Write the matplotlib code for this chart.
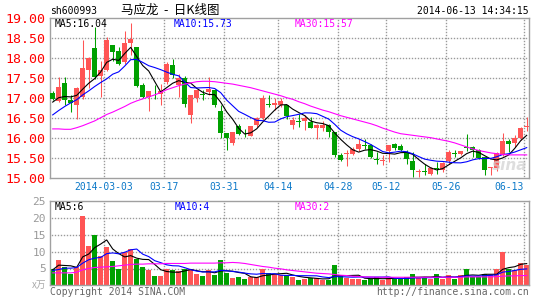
import numpy as np
import pandas as pd
import matplotlib
matplotlib.use('Agg')
import matplotlib.pyplot as plt

# ---- data (sh600993, daily K line) ----
opens = [17.13, 16.92, 17.37, 16.93, 16.82, 17.02, 17.68, 18.25, 17.53, 17.70,
         18.33, 18.18, 17.89, 18.37, 18.27, 17.32, 17.02, 17.08, 17.10, 17.39,
         17.82, 17.31, 17.49, 16.57, 16.99, 17.10, 17.14, 17.20, 16.68, 16.12,
         15.86, 16.29, 16.13, 16.05, 16.31, 16.50, 16.84, 16.83, 16.83, 16.81,
         16.31, 16.42, 16.42, 16.39, 16.23, 16.25, 16.31, 16.14, 15.56, 15.58,
         15.60, 15.72, 15.82, 15.81, 15.46, 15.42, 15.66, 15.85, 15.80, 15.64,
         15.42, 15.15, 15.17, 15.10, 15.23, 15.20, 15.42, 15.61, 15.59, 15.76,
         15.77, 15.68, 15.52, 15.23, 15.23, 15.56, 15.93, 15.87, 16.00, 16.27]
closes = [16.97, 17.27, 16.93, 16.87, 17.25, 17.75, 18.00, 17.52, 17.70, 18.45,
          18.14, 17.85, 18.38, 18.47, 17.30, 17.02, 17.17, 17.06, 17.17, 17.84,
          17.57, 17.49, 16.85, 17.07, 17.19, 17.08, 17.22, 16.82, 16.13, 15.98,
          16.15, 16.09, 16.11, 16.28, 16.48, 17.00, 16.82, 16.87, 16.92, 16.53,
          16.43, 16.40, 16.48, 16.25, 16.31, 16.33, 16.14, 15.56, 15.45, 15.62,
          15.72, 15.85, 15.80, 15.52, 15.44, 15.44, 15.82, 15.73, 15.70, 15.47,
          15.20, 15.17, 15.15, 15.24, 15.21, 15.37, 15.64, 15.59, 15.67, 15.74,
          15.68, 15.48, 15.18, 15.26, 15.62, 15.93, 15.85, 16.00, 16.23, 16.29]
highs = [17.17, 17.53, 17.52, 17.08, 17.28, 18.45, 18.03, 18.77, 17.93, 18.52,
         18.33, 18.28, 18.68, 18.87, 18.27, 17.37, 17.17, 17.32, 17.35, 17.89,
         17.96, 17.59, 17.55, 17.07, 17.20, 17.20, 17.52, 17.22, 16.81, 16.12,
         16.15, 16.35, 16.22, 16.30, 16.53, 17.06, 17.08, 17.00, 17.00, 16.83,
         16.52, 16.60, 16.56, 16.53, 16.35, 16.43, 16.35, 16.14, 15.62, 15.70,
         15.76, 15.97, 15.97, 15.85, 15.64, 15.56, 15.82, 15.87, 15.85, 15.70,
         15.64, 15.22, 15.35, 15.27, 15.40, 15.40, 15.70, 15.70, 15.68, 16.10,
         15.80, 15.72, 15.52, 15.28, 15.65, 16.12, 15.97, 16.06, 16.27, 16.53]
lows = [16.95, 16.90, 16.83, 16.64, 16.48, 16.98, 17.25, 17.48, 17.03, 17.68,
        17.93, 17.83, 17.85, 18.08, 17.27, 17.00, 16.68, 16.98, 16.83, 17.35,
        17.50, 17.02, 16.77, 16.37, 16.90, 16.95, 17.08, 16.78, 15.99, 15.70,
        15.82, 16.06, 16.02, 16.04, 16.28, 16.43, 16.78, 16.70, 16.77, 16.47,
        16.22, 16.27, 16.20, 16.25, 15.98, 16.18, 16.02, 15.53, 15.42, 15.30,
        15.58, 15.67, 15.73, 15.50, 15.35, 15.31, 15.40, 15.70, 15.68, 15.35,
        15.03, 15.02, 15.06, 15.08, 15.10, 15.14, 15.35, 15.52, 15.57, 15.68,
        15.53, 15.48, 15.06, 15.06, 15.18, 15.55, 15.64, 15.77, 15.95, 16.17]
volumes = [5.0, 7.5, 5.4, 3.4, 5.4, 20.6, 11.7, 15.0, 8.7, 11.5,
           7.2, 4.8, 10.0, 10.7, 7.7, 5.4, 4.5, 2.8, 2.8, 5.0,
           4.5, 4.3, 4.8, 4.8, 3.4, 2.8, 4.5, 3.1, 7.5, 3.6,
           2.3, 2.5, 1.9, 2.4, 2.4, 5.0, 3.6, 3.3, 3.0, 3.0,
           2.5, 1.5, 1.9, 2.2, 2.2, 1.7, 1.7, 6.1, 2.7, 2.2,
           2.0, 2.0, 1.7, 2.0, 2.4, 1.7, 2.2, 2.0, 2.0, 2.4,
           3.4, 2.2, 2.4, 1.9, 3.4, 1.9, 3.0, 1.9, 3.0, 5.0,
           2.5, 2.5, 3.4, 3.0, 5.0, 9.9, 5.0, 4.7, 6.6, 6.1]

# moving averages before the window starts
ma5_head = [16.89, 17.00, 17.03, 17.02]
ma10_head = [16.57, 16.68, 16.78, 16.87, 16.95, 17.07, 17.17, 17.28, 17.38]
vol_ma5_head = [4.6, 6.0, 5.9, 5.8]
vol_ma10_head = [4.4, 4.7, 5.1, 5.1, 5.3, 6.6, 7.6, 8.1, 8.3]

ma30 = [16.22, 16.22, 16.21, 16.21, 16.25, 16.30, 16.36, 16.42, 16.50, 16.58,
        16.64, 16.71, 16.78, 16.86, 16.92, 16.97, 17.02, 17.07, 17.13, 17.20,
        17.25, 17.30, 17.34, 17.37, 17.40, 17.41, 17.41, 17.40, 17.38, 17.36,
        17.34, 17.31, 17.28, 17.25, 17.21, 17.17, 17.13, 17.09, 17.05, 17.00,
        16.96, 16.90, 16.85, 16.79, 16.74, 16.69, 16.65, 16.60, 16.55, 16.51,
        16.47, 16.43, 16.39, 16.35, 16.30, 16.24, 16.19, 16.14, 16.10, 16.08,
        16.06, 16.04, 16.02, 16.00, 15.97, 15.94, 15.91, 15.87, 15.82, 15.77,
        15.72, 15.68, 15.65, 15.62, 15.60, 15.58, 15.57, 15.57, 15.57, 15.57]
vol_ma30 = [3.7, 3.7, 3.7, 3.7, 3.9, 4.6, 5.0, 5.3, 5.4, 5.5,
            5.6, 5.8, 6.0, 6.2, 6.3, 6.3, 6.4, 6.4, 6.4, 6.5,
            6.5, 6.5, 6.5, 6.6, 6.6, 6.6, 6.6, 6.6, 6.7, 6.7,
            6.8, 6.7, 6.5, 6.2, 5.9, 5.6, 5.4, 5.1, 4.9, 4.6,
            4.4, 4.2, 4.0, 3.8, 3.6, 3.5, 3.4, 3.2, 3.0, 2.9,
            2.7, 2.6, 2.5, 2.5, 2.4, 2.4, 2.4, 2.4, 2.4, 2.4,
            2.4, 2.4, 2.4, 2.4, 2.4, 2.4, 2.4, 2.4, 2.4, 2.5,
            2.5, 2.5, 2.5, 2.5, 2.6, 2.7, 2.8, 2.8, 2.9, 2.9]

# date labels sit on the slot boundary before these candle indexes
date_idx = [9, 19, 29, 38, 48, 56, 66, 79]
date_labels = ['2014-03-03', '03-17', '03-31', '04-14', '04-28', '05-12', '05-26', '06-13']
price_ticks = [15.0, 15.5, 16.0, 16.5, 17.0, 17.5, 18.0, 18.5, 19.0]
vol_ticks = [5, 10, 15, 20, 25]

RED = '#ff5555'
GREEN = '#00a000'
MONO = 'DejaVu Sans Mono'
CJK = ['Noto Sans CJK SC', 'DejaVu Sans']


def with_head(values, head, n):
    s = pd.Series(values).rolling(n).mean()
    s.iloc[:len(head)] = head
    return s.values


def dot_grid(a, xs, ys):
    # Sina style dotted guides: one grey pixel every 3 pixels, in axes fractions
    bb = a.get_window_extent()
    step_x = 3.0 / bb.width
    step_y = 3.0 / bb.height
    tx = a.get_xaxis_transform()
    ty = a.get_yaxis_transform()
    style = dict(ls='none', marker='s', ms=1.0, mew=0, mfc='#9a9a9a', zorder=1)
    along_y = np.arange(step_y / 2, 1, step_y)
    along_x = np.arange(step_x / 2, 1, step_x)
    for gx in xs:
        a.plot(np.full(along_y.size, gx), along_y, transform=tx, **style)
    for gy in ys:
        a.plot(along_x, np.full(along_x.size, gy), transform=ty, **style)


o = np.array(opens)
c = np.array(closes)
x = np.arange(len(o))
cols = np.where(c >= o, RED, GREEN)

ma5 = with_head(closes, ma5_head, 5)
ma10 = with_head(closes, ma10_head, 10)
vma5 = with_head(volumes, vol_ma5_head, 5)
vma10 = with_head(volumes, vol_ma10_head, 10)

W, H = 545, 300
fig = plt.figure(figsize=(W / 100, H / 100), dpi=100)
fig.patch.set_facecolor('white')


def box(l, t, r, b):
    return [l / W, 1 - b / H, (r - l) / W, (b - t) / H]


ax = fig.add_axes(box(50, 17.7, 528.5, 177.7))
axv = fig.add_axes(box(50, 201.3, 528.5, 285.3))

grid_x = [i - 0.5 for i in date_idx]

for a in (ax, axv):
    a.set_xlim(-0.45, 79.3)
    for sp in a.spines.values():
        sp.set_color('#a0a0a0')
        sp.set_linewidth(1.0)

# ---- price panel ----
ax.set_ylim(15, 19)
dot_grid(ax, grid_x, price_ticks[1:-1])

ax.vlines(x, lows, highs, colors=cols, lw=0.75, zorder=2)
body_lo = np.minimum(o, c)
body_h = np.maximum(np.abs(c - o), 0.02)
ax.bar(x, body_h, bottom=body_lo, width=0.78, color=cols, linewidth=0, zorder=3)

ax.plot(x, ma5, color='black', lw=0.8, zorder=4)
ax.plot(x, ma10, color='#0000ff', lw=0.8, zorder=4)
ax.plot(x, ma30, color='#ff00ff', lw=0.8, zorder=4)

ax.set_yticks(price_ticks)
ax.set_yticklabels(['%.2f' % v for v in price_ticks], family=MONO, fontsize=9.5, color='#ff0000')
ax.set_xticks(grid_x)
ax.set_xticklabels(date_labels, family=MONO, fontsize=7, color='#0a78c8')
ax.get_xticklabels()[-1].set_ha('right')
ax.tick_params(length=0, pad=3)

fig.text(55 / W, 1 - 23.7 / H, 'MA5:16.04', family=MONO, fontsize=7, color='black', va='center')
fig.text(174 / W, 1 - 23.7 / H, 'MA10:15.73', family=MONO, fontsize=7, color='#0000ff', va='center')
fig.text(295 / W, 1 - 23.7 / H, 'MA30:15.57', family=MONO, fontsize=7, color='#ff00ff', va='center')

# sina watermark
fig.text(510 / W, 1 - 165 / H, 'sina', fontsize=11, style='italic', fontweight='bold',
         color='#d0d0d0', alpha=0.7, ha='center', va='center')

# ---- volume panel ----
axv.set_ylim(0, 25)
dot_grid(axv, grid_x, vol_ticks[:-1])
axv.bar(x, volumes, width=0.8, color=cols, linewidth=0, zorder=2)
axv.plot(x, vma5, color='black', lw=0.8, zorder=4)
axv.plot(x, vma10, color='#0000ff', lw=0.8, zorder=4)
axv.plot(x, vol_ma30, color='#ff00ff', lw=0.8, zorder=4)
axv.set_yticks(vol_ticks)
axv.set_yticklabels([str(v) for v in vol_ticks], family=MONO, fontsize=8, color='#999999')
axv.set_xticks([])
axv.tick_params(length=0, pad=3)

fig.text(46 / W, 1 - 285 / H, 'x万', family=CJK, fontsize=7,
         color='#aaaaaa', ha='right', va='center', style='italic')
fig.text(55 / W, 1 - 206.7 / H, 'MA5:6', family=MONO, fontsize=7, color='black', va='center')
fig.text(175 / W, 1 - 206.7 / H, 'MA10:4', family=MONO, fontsize=7, color='#0000ff', va='center')
fig.text(295 / W, 1 - 206.7 / H, 'MA30:2', family=MONO, fontsize=7, color='#ff00ff', va='center')

# ---- header / footer ----
fig.text(50 / W, 1 - 11 / H, 'sh600993', family=MONO, fontsize=7, color='black', va='center')
fig.text(170 / W, 1 - 10.5 / H, '马应龙  -  日K线图', family=CJK,
         fontsize=9, color='black', ha='center', va='center')
fig.text(529 / W, 1 - 11 / H, '2014-06-13 14:34:15', family=MONO, fontsize=7, color='black',
         ha='right', va='center')
fig.text(50 / W, 1 - 292 / H, 'Copyright 2014 SINA.COM', family=MONO, fontsize=7, color='#666666',
         va='center')
fig.text(529 / W, 1 - 292 / H, 'http://finance.sina.com.cn', family=MONO, fontsize=7, color='#666666',
         ha='right', va='center')

fig.savefig('out.png', dpi=100)
